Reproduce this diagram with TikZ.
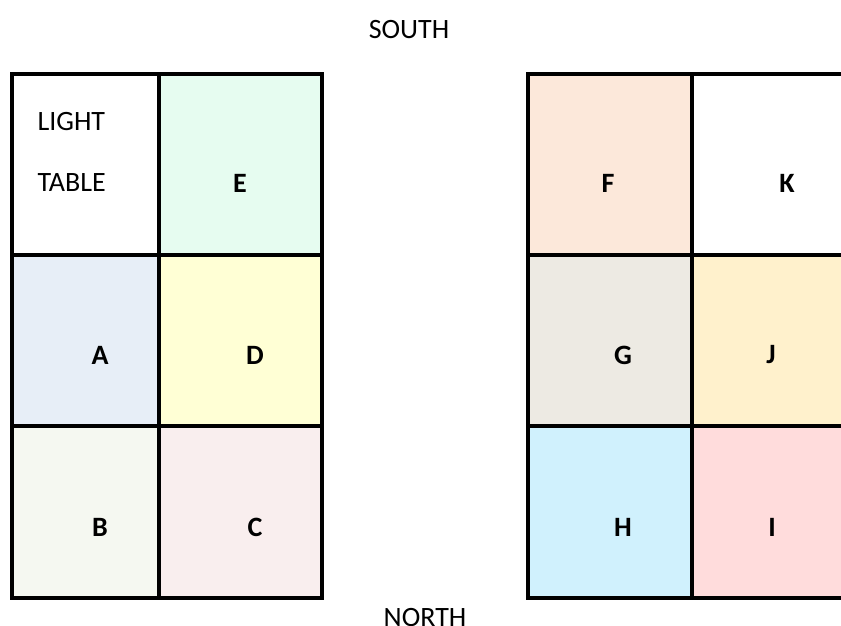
\documentclass[tikz,border=0pt]{standalone}
\usepackage{fontspec}
\setmainfont{Carlito}
\usepackage{tikz}

\definecolor{cellE}{HTML}{E6FCF0}
\definecolor{cellA}{HTML}{E7EEF7}
\definecolor{cellD}{HTML}{FFFFD5}
\definecolor{cellB}{HTML}{F5F8F1}
\definecolor{cellC}{HTML}{F9EEEE}
\definecolor{cellF}{HTML}{FCE8DA}
\definecolor{cellK}{HTML}{FFFFFF}
\definecolor{cellG}{HTML}{EDEAE3}
\definecolor{cellJ}{HTML}{FFF1CC}
\definecolor{cellH}{HTML}{D0F1FD}
\definecolor{cellI}{HTML}{FFDCDC}
\definecolor{cellL}{HTML}{FFFFFF}

\begin{document}
\begin{tikzpicture}[x=1pt,y=-1pt,
  cell/.style={draw=black,line width=3.5pt},
  lbl/.style={font=\fontsize{28}{32}\selectfont\bfseries},
  txt/.style={font=\fontsize{28}{32}\selectfont}]
\useasboundingbox (0,0) rectangle (841,626);
\clip (0,0) rectangle (841,626);
% left block
\foreach \xa/\xb/\ya/\yb/\c in {12/159/74/255/cellL, 159/322/74/255/cellE,
  12/159/255/426/cellA, 159/322/255/426/cellD,
  12/159/426/598/cellB, 159/322/426/598/cellC}
  \filldraw[cell,fill=\c] (\xa,\ya) rectangle (\xb,\yb);
% right block
\foreach \xa/\xb/\ya/\yb/\c in {528/692/74/255/cellF, 692/856/74/255/cellK,
  528/692/255/426/cellG, 692/856/255/426/cellJ,
  528/692/426/598/cellH, 692/856/426/598/cellI}
  \filldraw[cell,fill=\c] (\xa,\ya) rectangle (\xb,\yb);
\node[txt] (south) at (409,30) {SOUTH};
\node[txt,anchor=base] (north) at (425,626) {NORTH};
\node[txt,anchor=west] (light) at (34,122) {LIGHT};
\node[txt,anchor=west] (table) at (34,183) {TABLE};
\node[lbl] (e) at (240,183) {E};
\node[lbl] (a) at (100,355) {A};
\node[lbl] (d) at (255,355) {D};
\node[lbl] (b) at (100,527) {B};
\node[lbl] (c) at (255,527) {C};
\node[lbl] (f) at (608,183) {F};
\node[lbl] (k) at (787,183) {K};
\node[lbl] (g) at (623,355) {G};
\node[lbl] (j) at (771,355) {J};
\node[lbl] (h) at (623,527) {H};
\node[lbl] (i) at (772,527) {I};
\end{tikzpicture}
\end{document}
